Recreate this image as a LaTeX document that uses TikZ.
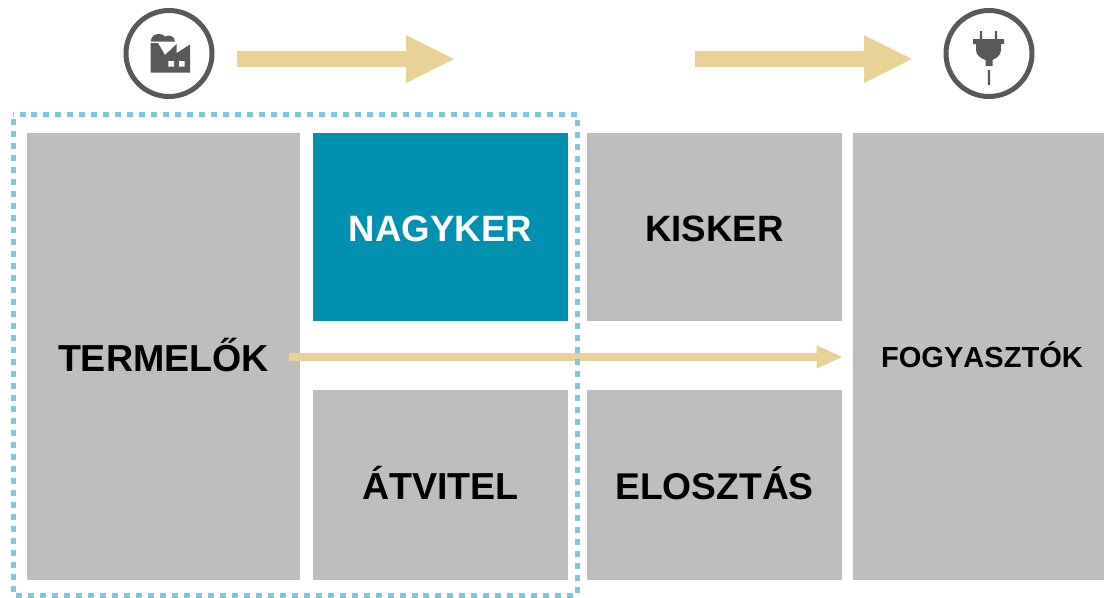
\documentclass[tikz,border=0pt]{standalone}
\usepackage{fontspec}
\setmainfont{Liberation Sans}[Kerning=Off]
\usetikzlibrary{arrows.meta}
\definecolor{boxgray}{HTML}{BEBEBE}
\definecolor{teal}{HTML}{0090B0}
\definecolor{flowtan}{HTML}{E9D298}
\definecolor{dotblue}{HTML}{7FC9DA}
\definecolor{icongray}{HTML}{595959}
\newcommand{\px}{0.75pt}

\begin{document}
\begin{tikzpicture}[x=\px,y=-\px,
  box node/.style={rectangle,fill=boxgray,inner sep=0pt,outer sep=0pt,
    text height=22pt,text depth=0pt,
    font=\fontsize{27.5pt}{30pt}\selectfont\bfseries},
  wide text/.style={font=\fontsize{#1}{30pt}\selectfont\bfseries},
  icon node/.style={circle,draw=icongray,line width=5*\px,inner sep=0pt,
    minimum size=86*\px},
  big arrow/.style={draw=flowtan,line width=16*\px,
    -{Triangle[length=36pt,width=36pt,line width=0pt,fill=flowtan]}},
  small arrow/.style={draw=flowtan,line width=8*\px,
    -{Triangle[length=19pt,width=17.5pt,line width=0pt,fill=flowtan]}}]

  \useasboundingbox (0,0) rectangle (1104,597);

  \node[box node,wide text=28.2pt,minimum width=273*\px,minimum height=447*\px] (termelok) at (163.5,356.5) {TERMELŐK};
  \node[box node,fill=teal,text=white,minimum width=255*\px,minimum height=188*\px] (nagyker) at (440.5,227) {NAGYKER};
  \node[box node,minimum width=255*\px,minimum height=188*\px] (kisker) at (714.5,227) {KISKER};
  \node[box node,wide text=28.2pt,minimum width=255*\px,minimum height=190*\px] (atvitel) at (440.5,485) {ÁTVITEL};
  \node[box node,wide text=27.9pt,minimum width=255*\px,minimum height=190*\px] (elosztas) at (714.5,485) {ELOSZTÁS};
  \node[box node,minimum width=251*\px,minimum height=447*\px] (fogyasztok) at (978.5,356.5) {};
  \node[font=\fontsize{21.8pt}{24pt}\selectfont\bfseries,inner sep=0pt,text height=16pt,text depth=0pt] (fogyasztok text) at (982,357) {FOGYASZTÓK};

  \node[icon node] (factory) at (169,53.5) {};
  \node[icon node] (plug) at (989,53.5) {};

  % factory icon
  \fill[icongray] (150.7,72.7) -- (150.7,43) -- (158,43) -- (165,55) -- (176.7,44) -- (176.7,53)
    -- (190,44.5) -- (190,72.7) -- cycle;
  \fill[white] (168.3,61) rectangle (174,66.7) (179,61) rectangle (184.7,66.7);
  \fill[icongray] (150.7,41.7) .. controls (151,36) and (155,34) .. (159,34)
    .. controls (162,34) and (164,35) .. (165,36.5) .. controls (170,34) and (175,37) .. (175,41.7) -- cycle;

  % plug icon
  \fill[icongray] (979.8,31) rectangle (982.2,39) (994.8,31) rectangle (997.2,39)
    (973,39) rectangle (1004,44) (987.8,70) rectangle (990.2,85);
  \fill[icongray] (976,44) -- (1001,44) -- (1001,50) .. controls (1001,55) and (997,58) .. (992.5,60)
    -- (992.5,66) -- (985.5,66) -- (985.5,60) .. controls (980,58) and (976,55) .. (976,50) -- cycle;

  \coordinate (top a start) at (237,59);
  \coordinate (top a end) at (454,59);
  \coordinate (top b start) at (695,59);
  \coordinate (top b end) at (912,59);
  \coordinate (flow start) at (289,357);
  \coordinate (flow end) at (842,357);

  \path (top a start) edge[big arrow] (top a end)
    (top b start) edge[big arrow] (top b end)
    (flow start) edge[small arrow] (flow end);

  % dotted frame
  \draw[dotblue,line width=5*\px,dash pattern=on 6*\px off 5.98*\px,dash phase=5.48*\px]
    (13,114) -- (577,114) -- (577,595) -- (13,595) -- cycle;

\end{tikzpicture}
\end{document}
